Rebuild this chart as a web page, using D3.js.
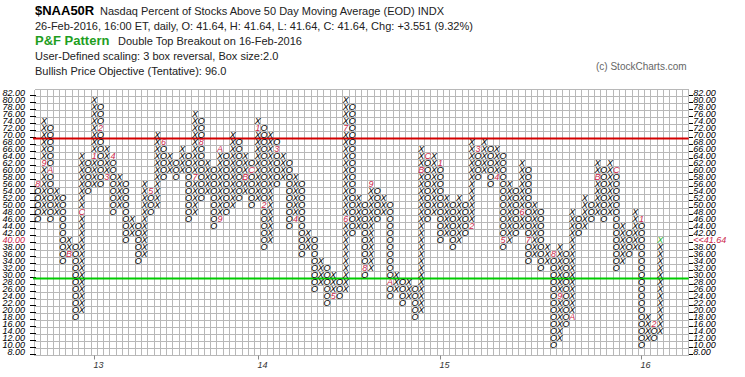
<!DOCTYPE html>
<html>
<head>
<meta charset="utf-8">
<script src="https://d3js.org/d3.v7.min.js"></script>
<style>
  body { margin: 0; background: #fff; }
  text { font-family: Arial, "Liberation Sans", sans-serif; }
</style>
</head>
<body>
<div id="chart"></div>
<script>
// P&F columns (box size 2, 3 box reversal): type, top box, bottom box
var colType = ["O","X","O","X","O","X","O","X","O","X", "O","X","O","X","O","X","O","X","O","X",
               "O","X","O","X","O","X","O","X","O","X", "O","X","O","X","O","X","O","X","O","X",
               "O","X","O","X","O","X","O","X","O","X", "O","X","O","X","O","X","O","X","O","X",
               "O","X","O","X","O","X","O","X","O","X", "O","X","O","X","O","X","O","X","O","X",
               "O","X","O","X","O","X","O","X","O","X", "O","X","O","X","O","X","O","X","O","X"];
var colTop    = [56,74,72,54,52,40,38,64,62,80, 78,66,64,58,56,46,44,56,54,70,
                 68,64,62,66,64,76,74,62,60,66, 64,70,68,64,62,74,72,70,68,64,
                 62,58,56,42,40,34,32,30,28,80, 78,52,50,56,54,52,50,30,28,28,
                 26,66,64,64,62,52,50,52,50,68, 66,68,66,66,64,56,54,62,60,50,
                 48,38,36,38,36,48,46,52,50,62, 60,62,60,44,42,48,46,18,16,40];
var colBottom = [46,48,46,48,34,36,18,20,54,56, 56,58,48,50,40,42,34,36,48,50,
                 58,60,58,60,46,48,52,54,44,46, 48,50,52,54,50,52,38,40,56,58,
                 44,46,36,38,26,28,22,24,24,26, 42,44,30,32,46,48,24,26,22,24,
                 18,20,46,48,40,42,38,40,42,44, 58,60,56,58,38,40,42,44,34,36,
                 32,34,10,12,16,18,42,44,46,48, 46,48,32,34,36,38,10,12,12,14];

// month markers: column, box, label
var markCol  = [0, 1, 2, 5, 7, 9, 10, 11, 12, 18, 20, 25, 26, 29, 29, 33, 34,
                35, 36, 38, 41, 47, 49, 49, 52, 53, 56, 61, 62,
                64, 69, 70, 73, 74, 77, 78, 82, 83, 85, 89, 92, 96, 98];
var markBox  = [56, 62, 60, 36, 48, 64, 72, 58, 64, 54, 68, 58, 68, 46, 66, 58, 60,
                72, 50, 66, 46, 24, 46, 72, 32, 56, 28, 60, 64,
                62, 44, 66, 58, 40, 48, 40, 36, 24, 18, 58, 60, 46, 16];
var markText = ["8","9","A","B","C","1","2","3","4","5","6","7","8","9","A","B","C",
                "1","2","3","4","5","6","7","8","9","A","B","C",
                "1","2","3","4","5","6","7","8","9","A","B","C","1","2"];

var yearText = ["13", "14", "15", "16"];
var yearCol  = [9, 35, 64, 96];

var axisValues = d3.range(82, 7, -2);
var resistance = 69, support = 29;
var lastBox = 40, lastLabel = "<<41.64";

var W = 745, H = 377, NCOL = 104, CW = 6.29, X0 = 34.5;
var markColor = "#cc1f4a";

var svg = d3.select("#chart").append("svg").attr("width", W).attr("height", H);
svg.append("rect").attr("width", W).attr("height", H).attr("fill", "#fff");

// header
var head = svg.append("g").attr("fill", "#222").style("font-size", "11px");
head.append("text").attr("x", 35).attr("y", 15).style("font-size", "13px").style("font-weight", "bold").attr("fill", "#000").text("$NAA50R");
head.append("text").attr("x", 100).attr("y", 15).text("Nasdaq Percent of Stocks Above 50 Day Moving Average (EOD)  INDX");
head.append("text").attr("x", 35).attr("y", 30).text("26-Feb-2016, 16:00 ET, daily, O: 41.64, H: 41.64, L: 41.64, C: 41.64, Chg: +3.551 (9.32%)");
head.append("text").attr("x", 35).attr("y", 45).style("font-size", "13px").style("font-weight", "bold").attr("fill", "#1e9e1e").text("P&F Pattern");
head.append("text").attr("x", 118).attr("y", 45).text("Double Top Breakout on 16-Feb-2016");
head.append("text").attr("x", 35).attr("y", 60).text("User-Defined scaling: 3 box reversal, Box size:2.0");
head.append("text").attr("x", 35).attr("y", 75).text("Bullish Price Objective (Tentative): 96.0");
svg.append("text").attr("x", 596).attr("y", 70).attr("fill", "#666").style("font-size", "10px").text("(c) StockCharts.com");

var x = d3.scaleLinear().domain([0, NCOL]).range([X0, X0 + NCOL * CW]);
var y = d3.scaleLinear().domain([7, 83]).range([355.5, 89.5]);
var xR = x(NCOL);

// grid
var grid = svg.append("g").attr("stroke", "#b8b8b8").attr("stroke-width", 1).attr("shape-rendering", "crispEdges");
grid.selectAll("line.v").data(d3.range(0, NCOL + 1)).enter().append("line")
  .attr("x1", d => x(d)).attr("x2", d => x(d)).attr("y1", y(83)).attr("y2", y(7));
grid.selectAll("line.h").data(d3.range(7, 84, 2)).enter().append("line")
  .attr("x1", x(0)).attr("x2", xR).attr("y1", d => y(d)).attr("y2", d => y(d));

// axis labels
var axis = svg.append("g").style("font-size", "9px").style("font-style", "italic");
axis.selectAll("text.l").data(axisValues).enter().append("text")
  .attr("x", 25).attr("y", d => y(d) + 3).attr("text-anchor", "end")
  .attr("fill", d => d == lastBox ? markColor : "#000")
  .text(d => d.toFixed(2));
axis.selectAll("text.r").data(axisValues).enter().append("text")
  .attr("x", xR + 4.5).attr("y", d => y(d) + 3)
  .attr("fill", d => d == lastBox ? markColor : "#000")
  .text(d => d == lastBox ? lastLabel : d.toFixed(2));
var ticks = svg.append("g").attr("stroke", "#000").attr("shape-rendering", "crispEdges");
ticks.selectAll("line.l").data(axisValues).enter().append("line")
  .attr("x1", 30).attr("x2", X0 + 1).attr("y1", d => Math.round(y(d)) + 2.5).attr("y2", d => Math.round(y(d)) + 2.5);
ticks.selectAll("line.r").data(axisValues).enter().append("line")
  .attr("x1", xR).attr("x2", xR + 4).attr("y1", d => Math.round(y(d)) + 2.5).attr("y2", d => Math.round(y(d)) + 2.5);

// year ticks
yearText.forEach(function(t, i) {
  var xx = Math.round(x(yearCol[i] + 0.5)) + 0.5;
  svg.append("line").attr("x1", xx).attr("x2", xx).attr("y1", y(7)).attr("y2", y(7) + 4).attr("stroke", "#888");
  svg.append("text").attr("x", xx - 1).attr("y", 368).style("font-size", "9px").style("font-style", "italic").attr("fill", "#333").text(t);
});

// resistance / support lines
svg.append("line").attr("x1", 33).attr("x2", xR).attr("y1", y(resistance)).attr("y2", y(resistance))
  .attr("stroke", "#d40000").attr("stroke-width", 2);
svg.append("line").attr("x1", 33).attr("x2", xR).attr("y1", y(support)).attr("y2", y(support))
  .attr("stroke", "#00cc00").attr("stroke-width", 2);

// boxes
var marks = {};
markCol.forEach((c, i) => marks[c + "_" + markBox[i]] = markText[i]);
var boxes = [];
colType.forEach(function(t, c) {
  for (var v = colBottom[c]; v <= colTop[c]; v += 2) {
    var k = c + "_" + v;
    var last = (c == colType.length - 1 && v == colTop[c]);
    boxes.push({c: c, v: v, t: marks[k] || t, m: !!marks[k], last: last});
  }
});
svg.append("g").style("font-size", "9px").style("font-style", "italic")
  .selectAll("text").data(boxes).enter().append("text")
  .attr("x", d => x(d.c + 0.5)).attr("y", d => y(d.v) + 3.3).attr("text-anchor", "middle")
  .attr("fill", d => d.last ? "#1fb81f" : (d.m ? markColor : "#000"))
  .text(d => d.t);
</script>
</body>
</html>
